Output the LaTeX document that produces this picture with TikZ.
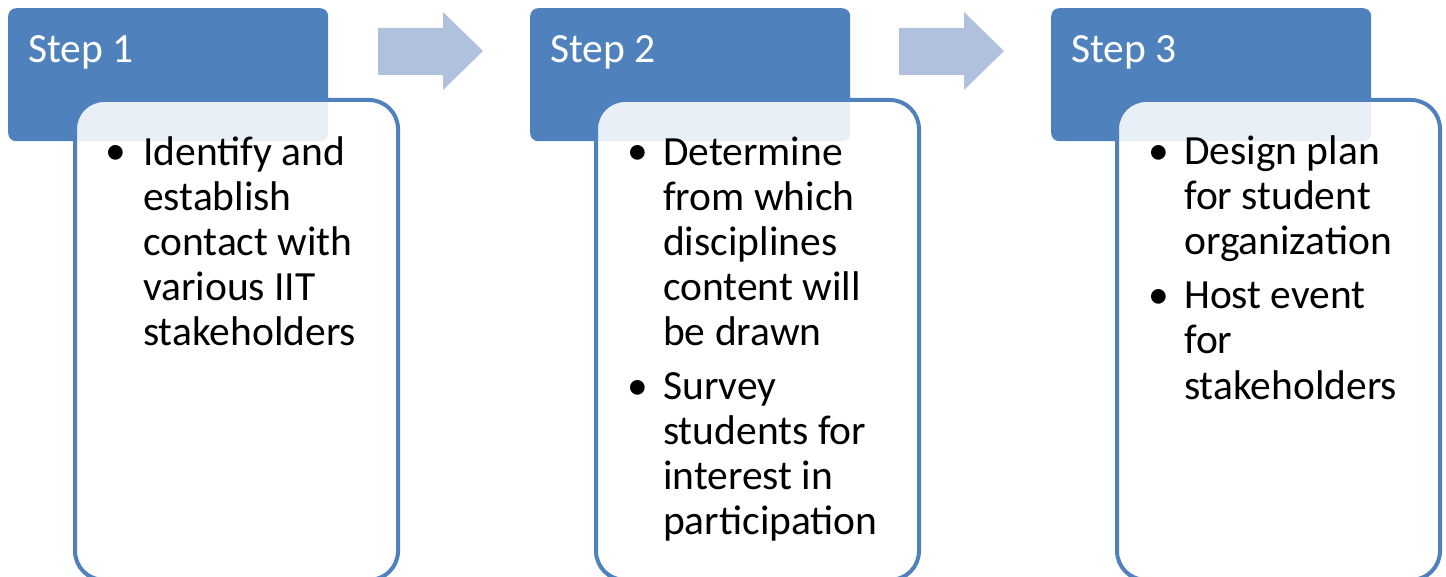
\documentclass[tikz,border=0pt]{standalone}
\usepackage{fontspec}
\setmainfont{Carlito}
\definecolor{stepblue}{HTML}{4F81BD}
\definecolor{arrowblue}{HTML}{B0C1DE}
\begin{document}
\begin{tikzpicture}[x=1pt,y=-1pt,
  stephead/.style={fill=stepblue,rounded corners=8pt,anchor=north west,inner sep=0pt,minimum width=320pt,minimum height=133pt},
  stepbody/.style={draw=stepblue,line width=4pt,fill=white,fill opacity=0.88,rounded corners=29pt,anchor=north west,inner sep=0pt,minimum width=323pt,minimum height=480pt},
  steptitle/.style={anchor=base west,inner sep=0pt,text=white,font=\fontsize{41.5}{45}\selectfont},
  stepitem/.style={anchor=base west,inner sep=0pt,align=left,font=\fontsize{41.5}{45}\selectfont},
  stepdot/.style={anchor=base west,inner sep=0pt,font=\fontsize{41.5}{45}\selectfont}]

\useasboundingbox (0,0) rectangle (1446,577);

% step 1
\node [stephead] (h1) at (8,8) {};
\node [stepbody] (b1) at (73,98) {};
\node [steptitle] (t1) at (28,63) {Step 1};
\node [stepdot] (d11) at (105,165) {\textbullet};
\node [stepitem] (i11) at (143,345) {Identify and\\establish\\contact with\\various IIT\\stakeholders};

% step 2
\node [stephead] (h2) at (530,8) {};
\node [stepbody] (b2) at (594,98) {};
\node [steptitle] (t2) at (550,63) {Step 2};
\node [stepdot] (d21) at (627,165) {\textbullet};
\node [stepitem] (i21) at (663,345) {Determine\\from which\\disciplines\\content will\\be drawn};
\node [stepdot] (d22) at (627,399) {\textbullet};
\node [stepitem] (i22) at (663,534) {Survey\\students for\\interest in\\participation};

% step 3
\node [stephead] (h3) at (1051,8) {};
\node [stepbody] (b3) at (1115,98) {};
\node [steptitle] (t3) at (1071,63) {Step 3};
\node [stepdot] (d31) at (1148,165) {\textbullet};
\node [stepitem] (i31) at (1184,255) {Design plan\\for student\\organization};
\node [stepdot] (d32) at (1148,309) {\textbullet};
\node [stepitem] (i32) at (1184,399) {Host event\\for\\stakeholders};

% arrows between the steps
\fill [arrowblue] (378,28) -- (443,28) -- (443,12) -- (483,51) -- (443,90) -- (443,75) -- (378,75) -- cycle;
\fill [arrowblue] (899,28) -- (964,28) -- (964,12) -- (1004,51) -- (964,90) -- (964,75) -- (899,75) -- cycle;

\end{tikzpicture}
\end{document}
